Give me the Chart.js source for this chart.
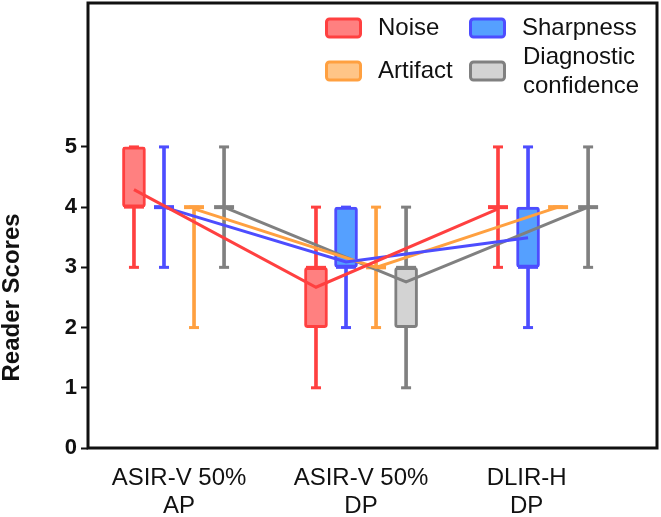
<!DOCTYPE html>
<html>
<head>
<meta charset="utf-8">
<script src="https://cdn.jsdelivr.net/npm/chart.js@4"></script>
<style>
    html, body { margin: 0; padding: 0; background: #fff; }
    #wrap { width: 661px; height: 517px; }
</style>
</head>
<body>
<div id="wrap"><canvas id="chart" width="661" height="517"></canvas></div>
<script>
// ============================================
// DATA
// ============================================

const groups = [['ASIR-V 50%', 'AP'], ['ASIR-V 50%', 'DP'], ['DLIR-H', 'DP']];
const seriesNames = ['Noise', 'Sharpness', 'Artifact', 'Diagnostic confidence'];
const yTicks = [0, 1, 2, 3, 4, 5];

const noiseMin    = [3, 1, 3];
const noiseQ1     = [4, 2, 4];
const noiseMedian = [4, 3, 4];
const noiseQ3     = [5, 3, 4];
const noiseMax    = [5, 4, 5];
const noiseMean   = [4.29, 2.67, 3.97];

const sharpMin    = [3, 2, 2];
const sharpQ1     = [4, 3, 3];
const sharpMedian = [4, 3, 3];
const sharpQ3     = [4, 4, 4];
const sharpMax    = [5, 4, 5];
const sharpMean   = [4.0, 3.09, 3.49];

const artifactMin    = [2, 2, 4];
const artifactQ1     = [4, 3, 4];
const artifactMedian = [4, 3, 4];
const artifactQ3     = [4, 3, 4];
const artifactMax    = [4, 4, 4];
const artifactMean   = [3.97, 3.0, 4.0];

const diagMin    = [3, 1, 3];
const diagQ1     = [4, 2, 4];
const diagMedian = [4, 3, 4];
const diagQ3     = [4, 3, 4];
const diagMax    = [5, 4, 5];
const diagMean   = [4.0, 2.76, 4.0];

// ============================================
// STYLE / LAYOUT
// ============================================

const lineColors = ['#ff4040', '#4d4dff', '#ffa040', '#808080'];
const fillColors = ['#ff8080', '#55a0ff', '#ffc587', '#d3d3d3'];
const seriesOffset = [-0.2475, -0.0825, 0.0825, 0.2475];
const labelPos = [0, 1, 1.91];
const FONT = 'Liberation Sans, Arial, sans-serif';

const stats = [
    { min: noiseMin, q1: noiseQ1, median: noiseMedian, q3: noiseQ3, max: noiseMax, mean: noiseMean },
    { min: sharpMin, q1: sharpQ1, median: sharpMedian, q3: sharpQ3, max: sharpMax, mean: sharpMean },
    { min: artifactMin, q1: artifactQ1, median: artifactMedian, q3: artifactQ3, max: artifactMax, mean: artifactMean },
    { min: diagMin, q1: diagQ1, median: diagMedian, q3: diagQ3, max: diagMax, mean: diagMean }
];

function buildDatasets() {
    const sets = [];
    stats.forEach((s, k) => {
        const xs = groups.map((g, i) => i + seriesOffset[k]);

        // connecting line through the means
        sets.push({
            type: 'line',
            label: seriesNames[k],
            data: xs.map((x, i) => ({ x, y: s.mean[i] })),
            borderColor: lineColors[k],
            borderWidth: 3,
            pointRadius: 0,
            fill: false,
            tension: 0,
            order: 0
        });

        // whisker caps
        const caps = [];
        xs.forEach((x, i) => {
            caps.push({ x, y: s.min[i] });
            caps.push({ x, y: s.max[i] });
        });
        sets.push({
            type: 'line',
            data: caps,
            showLine: false,
            pointStyle: 'line',
            pointRadius: 5,
            pointHoverRadius: 5,
            pointBorderWidth: 3,
            pointBorderColor: lineColors[k],
            order: 1
        });

        // medians (collapsed boxes become a thick bar)
        sets.push({
            type: 'line',
            data: xs.map((x, i) => ({ x, y: s.median[i] })),
            showLine: false,
            pointStyle: 'line',
            pointRadius: 10,
            pointHoverRadius: 10,
            pointBorderWidth: ctx => (s.q1[ctx.dataIndex] === s.q3[ctx.dataIndex] ? 4 : 3),
            pointBorderColor: lineColors[k],
            order: 1
        });

        // boxes
        sets.push({
            type: 'bar',
            data: xs.map((x, i) => ({ x, y: [s.q1[i], s.q3[i]] })).filter((d, i) => s.q1[i] !== s.q3[i]),
            backgroundColor: fillColors[k],
            borderColor: lineColors[k],
            borderWidth: 3,
            borderRadius: 3,
            borderSkipped: false,
            grouped: false,
            barPercentage: 1,
            categoryPercentage: 1,
            maxBarThickness: 23,
            order: 2
        });

        // whiskers
        sets.push({
            type: 'bar',
            data: xs.map((x, i) => ({ x, y: [s.min[i], s.max[i]] })).filter((d, i) => s.min[i] !== s.max[i]),
            backgroundColor: lineColors[k],
            borderWidth: 0,
            grouped: false,
            barPercentage: 1,
            categoryPercentage: 1,
            maxBarThickness: 3,
            order: 3
        });
    });
    return sets;
}

// ============================================
// PLUGIN: frame, y title, legend
// ============================================

const extras = {
    id: 'extras',
    afterDraw(chart) {
        const { ctx, chartArea: a, scales } = chart;
        ctx.save();

        // frame
        ctx.strokeStyle = '#111';
        ctx.lineWidth = 3;
        ctx.strokeRect(a.left, a.top, a.right - a.left, a.bottom - a.top);

        // y title centred on the 0-5 range
        const yMid = (scales.y.getPixelForValue(yTicks[0]) + scales.y.getPixelForValue(yTicks[yTicks.length - 1])) / 2;
        ctx.translate(12, yMid);
        ctx.rotate(-Math.PI / 2);
        ctx.font = 'bold 24px ' + FONT;
        ctx.fillStyle = '#111';
        ctx.textAlign = 'center';
        ctx.textBaseline = 'middle';
        ctx.fillText('Reader Scores', 0, 0);
        ctx.restore();

        // legend, 2 x 2
        ctx.save();
        ctx.font = '24px ' + FONT;
        ctx.fillStyle = '#111';
        ctx.textAlign = 'left';
        ctx.textBaseline = 'middle';
        const cols = [325, 469];
        const rows = [28, 71];
        seriesNames.forEach((name, k) => {
            const x = cols[k % 2];
            const y = rows[Math.floor(k / 2)];
            ctx.beginPath();
            ctx.roundRect(x + 1.5, y - 9, 34, 18, 3);
            ctx.fillStyle = fillColors[k];
            ctx.fill();
            ctx.lineWidth = 3;
            ctx.strokeStyle = lineColors[k];
            ctx.stroke();
            ctx.fillStyle = '#111';
            const words = name.split(' ');
            if (words.length > 1) {
                ctx.fillText(words[0], x + 54, y - 14);
                ctx.fillText(words[1], x + 54, y + 15);
            } else {
                ctx.fillText(name, x + 53, y);
            }
        });
        ctx.restore();
    }
};

// ============================================
// CHART
// ============================================

new Chart(document.getElementById('chart').getContext('2d'), {
    type: 'line',
    data: { datasets: buildDatasets() },
    options: {
        responsive: false,
        animation: false,
        devicePixelRatio: 1,
        layout: { autoPadding: false, padding: { left: 0, top: 3, right: 4, bottom: 0 } },
        plugins: {
            legend: { display: false },
            tooltip: { enabled: false }
        },
        scales: {
            x: {
                type: 'linear',
                min: -0.5,
                max: 2.626,
                offset: false,
                grid: { display: false, offset: false, drawTicks: false },
                border: { display: false },
                afterBuildTicks: scale => {
                    scale.ticks = labelPos.map(v => ({ value: v }));
                },
                afterFit: scale => {
                    scale.height = 69;
                    scale.paddingLeft = 0;
                    scale.paddingRight = 0;
                },
                ticks: {
                    autoSkip: false,
                    maxRotation: 0,
                    padding: 16,
                    color: '#111',
                    font: { family: FONT, size: 24, lineHeight: 1.17 },
                    callback: (value, index) => groups[index]
                }
            },
            y: {
                min: 0,
                max: 7.39,
                grid: {
                    drawOnChartArea: false,
                    drawTicks: true,
                    tickLength: 7,
                    tickWidth: 2,
                    tickColor: '#111'
                },
                border: { display: false },
                afterBuildTicks: scale => {
                    scale.ticks = yTicks.map(v => ({ value: v }));
                },
                afterFit: scale => {
                    scale.width = 88;
                    scale.paddingTop = 0;
                    scale.paddingBottom = 0;
                },
                ticks: {
                    padding: 4,
                    color: '#111',
                    font: { family: FONT, size: 22, weight: 'bold' }
                }
            }
        }
    },
    plugins: [extras]
});
</script>
</body>
</html>
